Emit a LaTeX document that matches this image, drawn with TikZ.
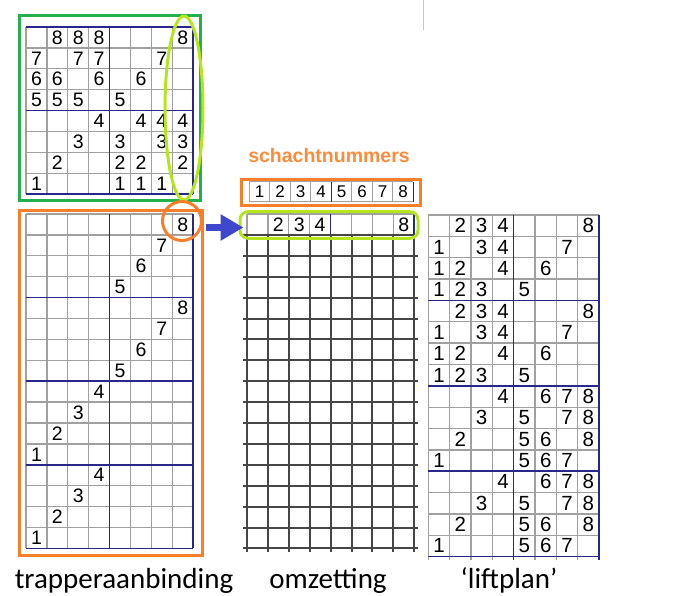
\documentclass[tikz,border=0pt]{standalone}
\usepackage{fontspec}
\setmainfont{Liberation Sans}
\newfontfamily\captionfont{Carlito}
\usepackage{xcolor}
\usetikzlibrary{arrows.meta,positioning,shapes.geometric,calc}

\definecolor{tieupgreen}{RGB}{34,177,76}
\definecolor{limegreen}{RGB}{181,230,29}
\definecolor{treadleorange}{RGB}{247,127,42}
\definecolor{titleorange}{RGB}{252,140,60}
\definecolor{arrowblue}{RGB}{63,72,204}
\definecolor{blockblue}{RGB}{40,40,140}
\definecolor{cellgray}{RGB}{160,160,160}
\definecolor{darkgrid}{RGB}{70,70,70}

\begin{document}
\begin{tikzpicture}[
    x=1pt, y=-1pt,
    cellline/.style={
        cellgray,
        line width=1.3pt
    },
    blockline/.style={
        blockblue,
        line width=1.5pt
    },
    heavyline/.style={
        darkgrid,
        line width=2pt
    },
    digit/.style={
        inner sep=0pt,
        font=\fontsize{19.5}{19.5}\selectfont
    },
    bigdigit/.style={
        inner sep=0pt,
        font=\fontsize{20.5}{20.5}\selectfont
    },
    smalldigit/.style={
        inner sep=0pt,
        font=\fontsize{17}{17}\selectfont
    },
    frame/.style={
        line width=3pt
    },
    caption/.style={
        inner sep=0pt,
        anchor=base,
        font=\captionfont\fontsize{29}{29}\selectfont
    },
    bigarrow/.style={
        arrowblue,
        line width=7.5pt,
        -{Triangle[length=23pt,width=25pt]}
    }
]

\useasboundingbox (0,0) rectangle (682,595);

\draw[cellgray!60, line width=1pt] (423,0) -- (423,30);

% =========================
% Tie-up (top left)
% =========================

\begin{scope}[shift={(26,27)}, x=20.9pt, y=-20.9pt]
\foreach \i in {0,...,8} \draw[cellline] (\i,0) -- (\i,8);
\foreach \j in {0,...,8} \draw[cellline] (0,\j) -- (8,\j);
\foreach \i in {4,8} \draw[blockline] (\i,0) -- (\i,8);
\foreach \j in {0,4,8} \draw[blockline] (0,\j) -- (8,\j);
\foreach \r/\row in {1/{0,8,8,8,0,0,0,8}, 2/{7,0,7,7,0,0,7,0},
                     3/{6,6,0,6,0,6,0,0}, 4/{5,5,5,0,5,0,0,0},
                     5/{0,0,0,4,0,4,4,4}, 6/{0,0,3,0,3,0,3,3},
                     7/{0,2,0,0,2,2,0,2}, 8/{1,0,0,0,1,1,1,0}}
    \foreach \v [count=\c] in \row
        {\ifnum\v>0 \node[digit] (tie-\r-\c) at (\c-0.5,\r-0.5) {\v};\fi}
\end{scope}

% =========================
% Treadling (bottom left)
% =========================

\begin{scope}[shift={(26,214)}, x=20.9pt, y=-20.9pt]
\foreach \i in {0,...,8} \draw[cellline] (\i,0) -- (\i,16);
\foreach \j in {0,...,16} \draw[cellline] (0,\j) -- (8,\j);
\foreach \i in {4,8} \draw[blockline] (\i,0) -- (\i,16);
\foreach \j in {4,8,12,16} \draw[blockline] (0,\j) -- (8,\j);
\foreach \r/\v in {1/8,2/7,3/6,4/5,5/8,6/7,7/6,8/5,
                   9/4,10/3,11/2,12/1,13/4,14/3,15/2,16/1}
    \node[digit] (tr-\r) at (\v-0.5,\r-0.5) {\v};
\end{scope}

% =========================
% Conversion (middle)
% =========================

\node[font=\bfseries\fontsize{19.5}{20}\selectfont, text=titleorange,
      anchor=base, inner sep=0pt] (shafttitle) at (329,162.5) {schachtnummers};

\begin{scope}[shift={(249.3,181.7)}, x=20.5pt, y=-20pt]
\foreach \i in {0,...,8} \draw[cellline] (\i,0) -- (\i,1);
\foreach \j in {0,1} \draw[cellline] (0,\j) -- (8,\j);
\foreach \i in {4,8} \draw[blockline] (\i,0) -- (\i,1);
\foreach \c in {1,...,8}
    \node[smalldigit] (shaft-\c) at (\c-0.5,0.5) {\c};
\end{scope}

\begin{scope}[shift={(247,214)}, x=20.9pt, y=-20.9pt]
\foreach \i in {0,...,8} \draw[cellline] (\i,0) -- (\i,1);
\draw[cellline] (0,0) -- (8,0);
\foreach \i in {4,8} \draw[blockline] (\i,0) -- (\i,1);
\foreach \c in {2,3,4,8}
    \node[digit] (conv-\c) at (\c-0.5,0.5) {\c};
\foreach \j in {1,...,16} \draw[heavyline] (-0.2,\j) -- (8.2,\j);
\foreach \i in {0,...,8} \draw[heavyline] (\i,1) -- (\i,16.17);
\end{scope}

% =========================
% Liftplan (right)
% =========================

\begin{scope}[shift={(428.3,215)}, x=21.35pt, y=-21.35pt]
\foreach \i in {0,...,8} \draw[cellline] (\i,0) -- (\i,16.17);
\foreach \j in {0,...,16} \draw[cellline] (0,\j) -- (8,\j);
\foreach \i in {4,8} \draw[blockline] (\i,0) -- (\i,16.17);
\foreach \j in {4,8,12,16} \draw[blockline] (0,\j) -- (8,\j);
\foreach \off in {0,4} {
    \foreach \r/\row in {1/{0,2,3,4,0,0,0,8}, 2/{1,0,3,4,0,0,7,0},
                         3/{1,2,0,4,0,6,0,0}, 4/{1,2,3,0,5,0,0,0}}
        \foreach \v [count=\c] in \row
            {\ifnum\v>0 \node[bigdigit] (lift-\off-\r-\c) at (\c-0.5,\r+\off-0.5) {\v};\fi}
}
\foreach \off in {8,12} {
    \foreach \r/\row in {1/{0,0,0,4,0,6,7,8}, 2/{0,0,3,0,5,0,7,8},
                         3/{0,2,0,0,5,6,0,8}, 4/{1,0,0,0,5,6,7,0}}
        \foreach \v [count=\c] in \row
            {\ifnum\v>0 \node[bigdigit] (lift-\off-\r-\c) at (\c-0.5,\r+\off-0.5) {\v};\fi}
}
\end{scope}

% =========================
% Frames and highlights
% =========================

\draw[frame, tieupgreen] (19,15) rectangle (200,200);
\draw[frame, treadleorange] (19,210) rectangle (202,555);
\draw[frame, treadleorange] (241.7,179) rectangle (420,205);

\node[frame, draw=limegreen, ellipse, inner sep=0pt,
      minimum width=38pt, minimum height=184pt] (tieupcol) at (184,108) {};

\node[frame, draw=treadleorange, circle, inner sep=0pt,
      minimum size=39pt] (pedal8) at (182,221) {};

\node[frame, draw=limegreen, rounded corners=8pt, inner sep=0pt,
      minimum width=178pt, minimum height=26.6pt] (firstrow) at (329,225) {};

\draw[bigarrow]
($(pedal8.east |- firstrow.west)+(3,2.5)$)
-- ($(firstrow.west)+(5,2.5)$);

% =========================
% Captions
% =========================

\node[caption] (treadling) at (124,588) {trapperaanbinding};
\node[caption] (conversion) at (328,588) {omzetting};
\node[caption] (liftplan) at (509,588) {‘liftplan’};

\end{tikzpicture}
\end{document}
